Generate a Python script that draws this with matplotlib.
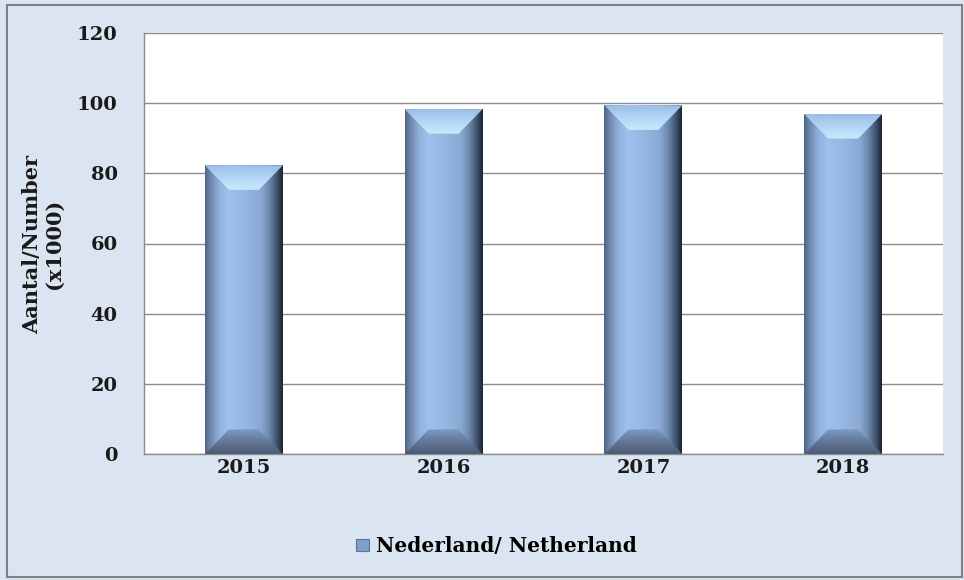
import matplotlib
matplotlib.use("Agg")
import matplotlib.pyplot as plt
import numpy as np
from matplotlib.patches import Polygon, Rectangle, Patch
from matplotlib.colors import LinearSegmentedColormap

years = ["2015", "2016", "2017", "2018"]
values = [82.3, 98.3, 99.4, 96.9]
yticks = [0, 20, 40, 60, 80, 100, 120]
ylabel = "Aantal/Number\n(x1000)"
legend_label = "Nederland/ Netherland"

BG = "#dbe5f1"
FONT = "DejaVu Serif"
TXT = "#1a1a1a"

fig = plt.figure(figsize=(9.64, 5.80), dpi=100, facecolor=BG)
ax = fig.add_axes([144/964, 1-454/580, (943-144)/964, (454-33)/580])
ax.set_facecolor("white")

x = np.arange(len(years))
bars = ax.bar(x, values, width=0.39, color="none", edgecolor="none", zorder=2)
ax.set_xlim(-0.5, len(years)-0.5)
ax.set_ylim(0, 120)

body_cmap = LinearSegmentedColormap.from_list("body", [
    (0.0, "#4f6282"), (0.06, "#6a82a8"), (0.18, "#90b0da"), (0.3, "#9dc0ec"),
    (0.55, "#94b5e0"), (0.72, "#89a8d2"), (0.82, "#6f8aaf"), (0.93, "#3d506a"),
    (1.0, "#1a2330")])
top_cmap = LinearSegmentedColormap.from_list("top", [
    (0.0, "#c6ebfc"), (0.45, "#b4d8f6"), (1.0, "#9bbde8")])
bot_cmap = LinearSegmentedColormap.from_list("bot", [
    (0.0, "#4c5b72"), (0.5, "#62779a"), (1.0, "#7f9ac2")])

bx = 0.12   # bevel horizontal (data units)
by = 7.0    # bevel vertical (data units)
grad_h = np.linspace(0, 1, 256).reshape(1, -1)
grad_v = np.linspace(0, 1, 256).reshape(-1, 1)
for r in bars:
    x0, w, h = r.get_x(), r.get_width(), r.get_height()
    clip = Rectangle((x0, 0), w, h, transform=ax.transData)
    im = ax.imshow(grad_h, cmap=body_cmap, extent=(x0, x0+w, 0, h),
                   aspect="auto", zorder=3, interpolation="bilinear")
    im.set_clip_path(clip)
    top = Polygon([(x0, h), (x0+w, h), (x0+w-bx, h-by), (x0+bx, h-by)],
                  closed=True, facecolor="none", edgecolor="none", zorder=4)
    ax.add_patch(top)
    im2 = ax.imshow(grad_v, cmap=top_cmap, origin="lower",
                    extent=(x0, x0+w, h-by, h), aspect="auto", zorder=4,
                    interpolation="bilinear")
    im2.set_clip_path(top)
    bot = Polygon([(x0, 0), (x0+w, 0), (x0+w-bx, by), (x0+bx, by)],
                  closed=True, facecolor="none", edgecolor="none", zorder=4)
    ax.add_patch(bot)
    im3 = ax.imshow(grad_v, cmap=bot_cmap, origin="lower",
                    extent=(x0, x0+w, 0, by), aspect="auto", zorder=4,
                    interpolation="bilinear")
    im3.set_clip_path(bot)

ax.set_xlim(-0.5, len(years)-0.5)
ax.set_ylim(0, 120)
ax.set_yticks(yticks)
ax.set_yticklabels([str(t) for t in yticks], fontfamily=FONT, fontweight="bold",
                   fontsize=14, color=TXT)
ax.set_xticks(x)
ax.set_xticklabels(years, fontfamily=FONT, fontweight="bold", fontsize=14,
                   color=TXT)
ax.tick_params(axis="both", length=0)
ax.tick_params(axis="y", pad=19)
ax.tick_params(axis="x", pad=3.5)
ax.yaxis.grid(True, color="#8c8c8c", linewidth=1.0, zorder=1)
ax.set_axisbelow(True)
for s in ["top", "right"]:
    ax.spines[s].set_visible(False)
for s in ["left", "bottom"]:
    ax.spines[s].set_color("#8c8c8c")
    ax.spines[s].set_linewidth(1.0)

fig.text(43/964, 1-244/580, ylabel, rotation=90, ha="center", va="center",
         multialignment="center",
         fontfamily=FONT, fontweight="bold", fontsize=15, color=TXT,
         linespacing=1.05)

handle = Patch(facecolor="#7f9fca", edgecolor="#5b7599", linewidth=0.8)
fig.legend([handle], [legend_label], loc="center", bbox_to_anchor=(0.515, 1-546/580),
           frameon=False, prop={"family": FONT, "weight": "bold", "size": 14.5},
           handlelength=0.6, handleheight=0.6, handletextpad=0.35)

fig.patches.append(Rectangle((7/964, 3/580), 955/964, 572/580, transform=fig.transFigure,
                             fill=False, edgecolor="#808080", linewidth=1.5))

fig.savefig("out.png", dpi=100, facecolor=BG)
